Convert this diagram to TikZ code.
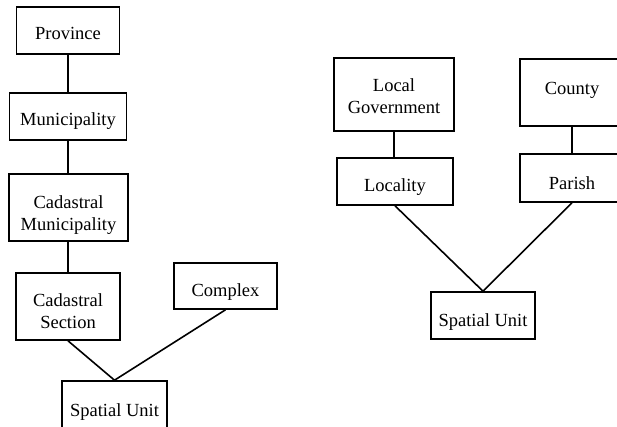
\documentclass[tikz,border=0pt]{standalone}
\usepackage{fontspec}
\setmainfont{Liberation Serif}
\begin{document}
\begin{tikzpicture}[x=1pt,y=1pt,
  box/.style={draw, line width=1.6pt, inner sep=0pt},
  lbl/.style={inner sep=0pt, align=center, font=\fontsize{18.5}{22}\selectfont},
  link/.style={line width=1.6pt}]
\clip (0,0) rectangle (617,427);
\fill[white] (0,0) rectangle (617,427);
% left hierarchy
\node[box, minimum width=103, minimum height=47,
  label={[lbl, yshift=-3]center:Province}] (prov) at (68,396.5) {};
\node[box, minimum width=117, minimum height=47,
  label={[lbl, yshift=-5]center:Municipality}] (muni) at (68,310.5) {};
\node[box, minimum width=119, minimum height=67,
  label={[lbl, yshift=-8]center:{Cadastral\\Municipality}}] (cmun) at (68.5,219.5) {};
\node[box, minimum width=104, minimum height=67,
  label={[lbl, yshift=-5]center:{Cadastral\\Section}}] (csec) at (68,120.5) {};
\node[box, minimum width=103, minimum height=46,
  label={[lbl, yshift=-6]center:Complex}] (cplx) at (225.5,141) {};
\node[box, minimum width=105, minimum height=60,
  label={[lbl, yshift=-1]center:Spatial Unit}] (sul) at (114.5,16) {};
% right hierarchy
\node[box, minimum width=120, minimum height=73,
  label={[lbl, yshift=-2]center:{Local\\Government}}] (lgov) at (394,332.5) {};
\node[box, minimum width=104, minimum height=67,
  label={[lbl, yshift=2]center:County}] (cnty) at (572,334.5) {};
\node[box, minimum width=116, minimum height=47,
  label={[lbl, yshift=-6]center:Locality}] (loc) at (395,245.5) {};
\node[box, minimum width=104, minimum height=48,
  label={[lbl, yshift=-5]center:Parish}] (par) at (572,249) {};
\node[box, minimum width=104, minimum height=47,
  label={[lbl, yshift=-7]center:Spatial Unit}] (sur) at (483,111.5) {};
% connectors
\draw[link] (prov.south) -- (muni.north);
\draw[link] (muni.south) -- (cmun.north -| muni.south);
\draw[link] (cmun.south -| csec.north) -- (csec.north);
\draw[link] (csec.south) -- (sul.north);
\draw[link] (cplx.south) -- (sul.north);
\draw[link] (lgov.south) -- (loc.north -| lgov.south);
\draw[link] (cnty.south) -- (par.north);
\draw[link] (loc.south) -- (sur.north);
\draw[link] (par.south) -- (sur.north);
\end{tikzpicture}
\end{document}
